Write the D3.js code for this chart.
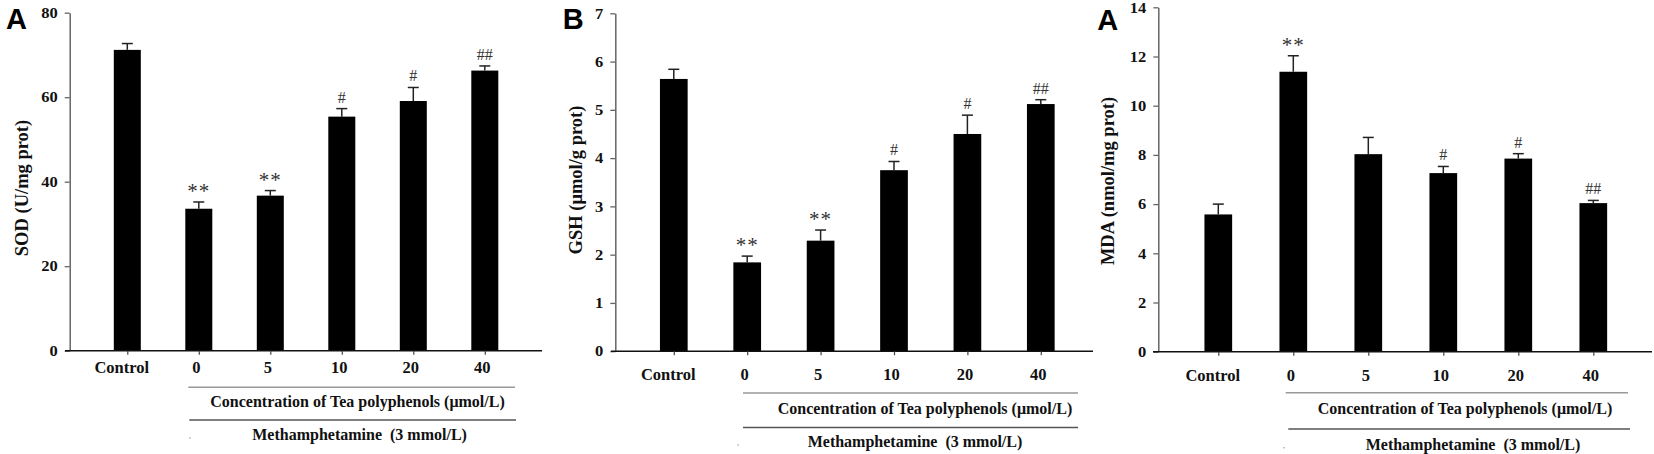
<!DOCTYPE html>
<html>
<head>
<meta charset="utf-8">
<script src="https://cdn.jsdelivr.net/npm/d3@7"></script>
<style>
  body { margin: 0; background: #fff; }
  svg { display: block; }
  text { font-family: "Liberation Serif", "Times New Roman", serif; }
  text.letter { font-family: "Liberation Sans", Arial, sans-serif; }
</style>
</head>
<body>
<div id="chart"></div>
<script>
// groups on the x axis (Control + tea polyphenol concentrations)
const groups = ["Control", "0", "5", "10", "20", "40"]

// SOD panel
const sodMean = [71.2, 33.6, 36.7, 55.4, 59.1, 66.3]
const sodErr = [1.5, 1.6, 1.2, 1.9, 3.2, 1.1]
const sodSig = ["", "**", "**", "#", "#", "##"]
const sodTicks = [0, 20, 40, 60, 80]

// GSH panel
const gshMean = [5.64, 1.84, 2.29, 3.75, 4.50, 5.12]
const gshErr = [0.20, 0.13, 0.22, 0.18, 0.39, 0.09]
const gshSig = ["", "**", "**", "#", "#", "##"]
const gshTicks = [0, 1, 2, 3, 4, 5, 6, 7]

// MDA panel
const mdaMean = [5.58, 11.38, 8.03, 7.26, 7.85, 6.04]
const mdaErr = [0.42, 0.65, 0.68, 0.27, 0.20, 0.11]
const mdaSig = ["", "**", "", "#", "#", "##"]
const mdaTicks = [0, 2, 4, 6, 8, 10, 12, 14]

const concLabel = "Concentration of Tea polyphenols (\u03bcmol/L)"
const methLabel = "Methamphetamine  (3 mmol/L)"

const width = 1654
const height = 454

const svg = d3.select("#chart")
    .append("svg")
    .attr("width", width)
    .attr("height", height)

// layout of each panel (pixel positions only)
const panels = [
    {letter: "A", lx: 6, ly: 29.3, title: "SOD (U/mg prot)", tx: 22, ty: 188,
     mean: sodMean, err: sodErr, sig: sodSig, ticks: sodTicks, max: 80,
     ax: 69.7, y0: 350.7, y1: 12.7, xa0: 65, xa1: 542, c0: 127.3, step: 71.5, bw: 27,
     labY: 372.7, l1: 387.3, l1a: 188.3, l1b: 515, t1y: 406.7, t1x: 357.5,
     l2: 420, l2a: 189.3, l2b: 516, t2y: 440, t2x: 359.6, dot: [190, 438]},
    {letter: "B", lx: 562.7, ly: 29.3, title: "GSH (\u03bcmol/g prot)", tx: 576, ty: 180,
     mean: gshMean, err: gshErr, sig: gshSig, ticks: gshTicks, max: 7,
     ax: 615.3, y0: 351.2, y1: 13.3, xa0: 611, xa1: 1093, c0: 673.8, step: 73.4, bw: 27.7,
     labY: 380, l1: 393, l1a: 743, l1b: 1078, t1y: 413.5, t1x: 925,
     l2: 427.5, l2a: 743, l2b: 1078, t2y: 447, t2x: 915, dot: [738, 445]},
    {letter: "A", lx: 1097.3, ly: 30, title: "MDA (nmol/mg prot)", tx: 1108, ty: 181,
     mean: mdaMean, err: mdaErr, sig: mdaSig, ticks: mdaTicks, max: 14,
     ax: 1158.3, y0: 351.7, y1: 7.3, xa0: 1153, xa1: 1652, c0: 1218.3, step: 75, bw: 27.7,
     labY: 380.7, l1: 392.7, l1a: 1285.7, l1b: 1628, t1y: 414.3, t1x: 1465,
     l2: 429, l2a: 1288.3, l2b: 1630, t2y: 450, t2x: 1473, dot: [1284, 447.7]}
]

panels.forEach(p => {
    const g = svg.append("g")

    const y = d3.scaleLinear().domain([0, p.max]).range([p.y0, p.y1])
    const x = d3.scalePoint().domain(groups).range([p.c0, p.c0 + p.step * (groups.length - 1)])

    const rows = groups.map((k, i) => ({k: k, m: p.mean[i], e: p.err[i], s: p.sig[i]}))

    // bars
    g.selectAll("rect.bar")
        .data(rows)
        .join("rect")
        .attr("class", "bar")
        .attr("x", d => x(d.k) - p.bw / 2)
        .attr("y", d => y(d.m))
        .attr("width", p.bw)
        .attr("height", d => y(0) - y(d.m))
        .attr("fill", "#000")

    // error bars (upper only)
    g.selectAll("line.stem")
        .data(rows)
        .join("line")
        .attr("class", "stem")
        .attr("x1", d => x(d.k)).attr("x2", d => x(d.k))
        .attr("y1", d => y(d.m)).attr("y2", d => y(d.m + d.e))
        .attr("stroke", "#222").attr("stroke-width", 1.5)
    g.selectAll("line.cap")
        .data(rows)
        .join("line")
        .attr("class", "cap")
        .attr("x1", d => x(d.k) - 5.5).attr("x2", d => x(d.k) + 5.5)
        .attr("y1", d => y(d.m + d.e)).attr("y2", d => y(d.m + d.e))
        .attr("stroke", "#222").attr("stroke-width", 1.5)

    // significance marks
    g.selectAll("text.sig")
        .data(rows.filter(d => d.s))
        .join("text")
        .attr("class", "sig")
        .attr("x", d => x(d.k))
        .attr("y", d => y(d.m + d.e) - (d.s == "**" ? 4 : 6))
        .attr("text-anchor", "middle")
        .attr("font-size", d => d.s == "**" ? "21px" : "16px")
        .attr("letter-spacing", d => d.s == "**" ? "1px" : "0px")
        .attr("fill", "#333")
        .text(d => d.s)

    // y axis
    const yAxis = d3.axisLeft(y).tickValues(p.ticks).tickFormat(d3.format("d"))
        .tickSize(5).tickSizeOuter(0)
    const ya = g.append("g")
        .attr("transform", "translate(" + p.ax + ",0)")
        .call(yAxis)
    ya.select(".domain").attr("stroke", "#666").attr("stroke-width", 1.5)
    ya.selectAll(".tick line").attr("stroke", "#666").attr("stroke-width", 1.3)
    ya.selectAll(".tick text")
        .attr("x", 0).attr("dy", "0.34em")
        .attr("transform", "translate(-12,0) scale(1.18,1)")
        .attr("font-weight", "bold")
        .attr("font-size", "14px")
        .attr("fill", "#111")

    // x axis baseline
    g.append("line")
        .attr("x1", p.xa0).attr("x2", p.xa1)
        .attr("y1", p.y0).attr("y2", p.y0)
        .attr("stroke", "#111").attr("stroke-width", 1.5)

    const xAxis = d3.axisBottom(x).tickSize(4).tickSizeOuter(0)
    const xa = g.append("g")
        .attr("transform", "translate(0," + p.y0 + ")")
        .call(xAxis)
    xa.select(".domain").remove()
    xa.selectAll(".tick line").attr("stroke", "#444").attr("stroke-width", 1.2)
    xa.selectAll(".tick text")
        .attr("y", p.labY - p.y0).attr("dy", 0)
        .attr("x", d => d == "Control" ? -6 : -3)
        .attr("font-weight", "bold")
        .attr("font-size", "16.5px")
        .attr("fill", "#111")

    // y title
    g.append("text")
        .attr("transform", "translate(" + p.tx + "," + p.ty + ") rotate(-90)")
        .attr("dy", "0.35em")
        .attr("text-anchor", "middle")
        .attr("font-weight", "bold")
        .attr("font-size", "18.5px")
        .attr("fill", "#111")
        .text(p.title)

    // panel letter
    g.append("text")
        .attr("class", "letter")
        .attr("x", p.lx).attr("y", p.ly)
        .attr("font-weight", "bold")
        .attr("font-size", "29px")
        .attr("fill", "#000")
        .text(p.letter)

    // bracket lines and group labels under the axis
    g.append("line")
        .attr("x1", p.l1a).attr("x2", p.l1b).attr("y1", p.l1).attr("y2", p.l1)
        .attr("stroke", "#999").attr("stroke-width", 1.5)
    g.append("text")
        .attr("x", p.t1x).attr("y", p.t1y)
        .attr("text-anchor", "middle")
        .attr("font-weight", "bold").attr("font-size", "16px").attr("fill", "#111")
        .text(concLabel)
    g.append("line")
        .attr("x1", p.l2a).attr("x2", p.l2b).attr("y1", p.l2).attr("y2", p.l2)
        .attr("stroke", "#555").attr("stroke-width", 1.3)
    g.append("text")
        .attr("x", p.t2x).attr("y", p.t2y)
        .attr("text-anchor", "middle")
        .style("white-space", "pre")
        .attr("font-weight", "bold").attr("font-size", "16px").attr("fill", "#111")
        .text(methLabel)
    g.append("circle")
        .attr("cx", p.dot[0]).attr("cy", p.dot[1]).attr("r", 0.8)
        .attr("fill", "#999")
})
</script>
</body>
</html>
